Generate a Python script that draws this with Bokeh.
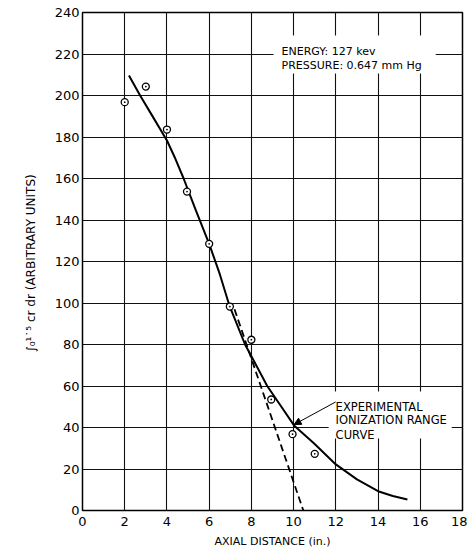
from bokeh.plotting import figure
from bokeh.models import Range1d, FixedTicker, Label, BoxAnnotation, Arrow, NormalHead
from bokeh.embed import file_html
from bokeh.resources import INLINE

# ---- data ----
point_x = [2.0, 3.0, 4.0, 4.95, 6.0, 6.98, 8.0, 8.94, 9.95, 11.0]
point_y = [196.8, 204.3, 183.6, 153.7, 128.5, 98.3, 82.3, 53.5, 36.8, 27.3]

curve_x = [2.2, 2.73, 3.3, 4.0, 4.4, 4.79, 5.37, 6.0, 6.5, 6.95, 7.7, 8.75, 9.38, 10.02, 10.96, 12.0, 13.0, 14.0, 14.7, 15.39]
curve_y = [209.6, 200.0, 190.3, 178.3, 169.5, 160.0, 144.6, 128.5, 114.0, 99.0, 80.0, 60.0, 50.6, 41.0, 32.4, 22.2, 15.0, 9.3, 7.0, 5.3]

tangent_x = [7.2, 10.46]
tangent_y = [97.0, 0.0]

x_ticks = [0, 2, 4, 6, 8, 10, 12, 14, 16, 18]
y_ticks = [0, 20, 40, 60, 80, 100, 120, 140, 160, 180, 200, 220, 240]

FONT = "DejaVu Sans"

p = figure(width=467, height=554, output_backend="svg", toolbar_location=None,
           x_range=Range1d(0, 18), y_range=Range1d(0, 240),
           min_border_left=82, min_border_right=5, min_border_top=12, min_border_bottom=44)
p.background_fill_color = "white"
p.border_fill_color = "white"
p.outline_line_color = "black"
p.outline_line_width = 1.5

p.xaxis.ticker = FixedTicker(ticks=x_ticks)
p.yaxis.ticker = FixedTicker(ticks=y_ticks)
for ax in (p.xaxis, p.yaxis):
    ax.axis_line_color = None
    ax.major_tick_line_color = None
    ax.minor_tick_line_color = None
    ax.major_tick_out = 0
    ax.major_tick_in = 0
    ax.minor_tick_out = 0
    ax.major_label_text_font = FONT
    ax.major_label_text_font_size = "13px"
    ax.major_label_text_color = "black"
    ax.axis_label_text_color = "black"
    ax.axis_label_text_font = FONT
    ax.axis_label_text_font_style = "normal"
p.xaxis.major_label_standoff = 6
p.yaxis.major_label_standoff = 3
p.xaxis.axis_label = "AXIAL DISTANCE (in.)"
p.xaxis.axis_label_text_font_size = "11px"
p.xaxis.axis_label_standoff = 6

p.yaxis.axis_label = "\u222b\u2080\u00b9\u02d9\u2075 cr dr  (ARBITRARY UNITS)"
p.yaxis.axis_label_text_font_size = "12px"
p.yaxis.axis_label_standoff = 14

p.xgrid.ticker = FixedTicker(ticks=x_ticks)
p.ygrid.ticker = FixedTicker(ticks=y_ticks)
for g in (p.xgrid, p.ygrid):
    g.grid_line_color = "#111111"
    g.grid_line_width = 1.1
    g.grid_line_alpha = 1.0

# curves
p.line(curve_x, curve_y, line_color="black", line_width=2)
p.line(tangent_x, tangent_y, line_color="black", line_width=1.8, line_dash="7 4")
p.scatter(point_x, point_y, marker="circle_dot", size=7, line_color="black",
          fill_color="white", line_width=1.3)

# text boxes masking the grid
p.add_layout(BoxAnnotation(left=9.05, right=16.73, bottom=210.6, top=228.9,
                           fill_color="white", fill_alpha=1, line_color=None))
p.add_layout(Label(x=9.43, y=221.3, text="ENERGY: 127 kev", text_font=FONT,
                   text_font_size="11px", text_baseline="alphabetic", text_color="black"))
p.add_layout(Label(x=9.43, y=214.5, text="PRESSURE: 0.647 mm Hg", text_font=FONT,
                   text_font_size="11px", text_baseline="alphabetic", text_color="black"))

p.add_layout(BoxAnnotation(left=11.66, right=17.49, bottom=34.7, top=57.3,
                           fill_color="white", fill_alpha=1, line_color=None))
for yy, t in [(49.8, "EXPERIMENTAL"), (43.8, "IONIZATION RANGE"), (36.6, "CURVE")]:
    p.add_layout(Label(x=11.99, y=yy, text=t, text_font=FONT, text_font_size="11.5px",
                       text_baseline="alphabetic", text_color="black"))

p.add_layout(Arrow(x_start=11.99, y_start=52.3, x_end=10.02, y_end=41.4,
                   line_color="black", line_width=1,
                   end=NormalHead(size=7, fill_color="black", line_color="black")))

open("out.html", "w").write(file_html(p, INLINE))
